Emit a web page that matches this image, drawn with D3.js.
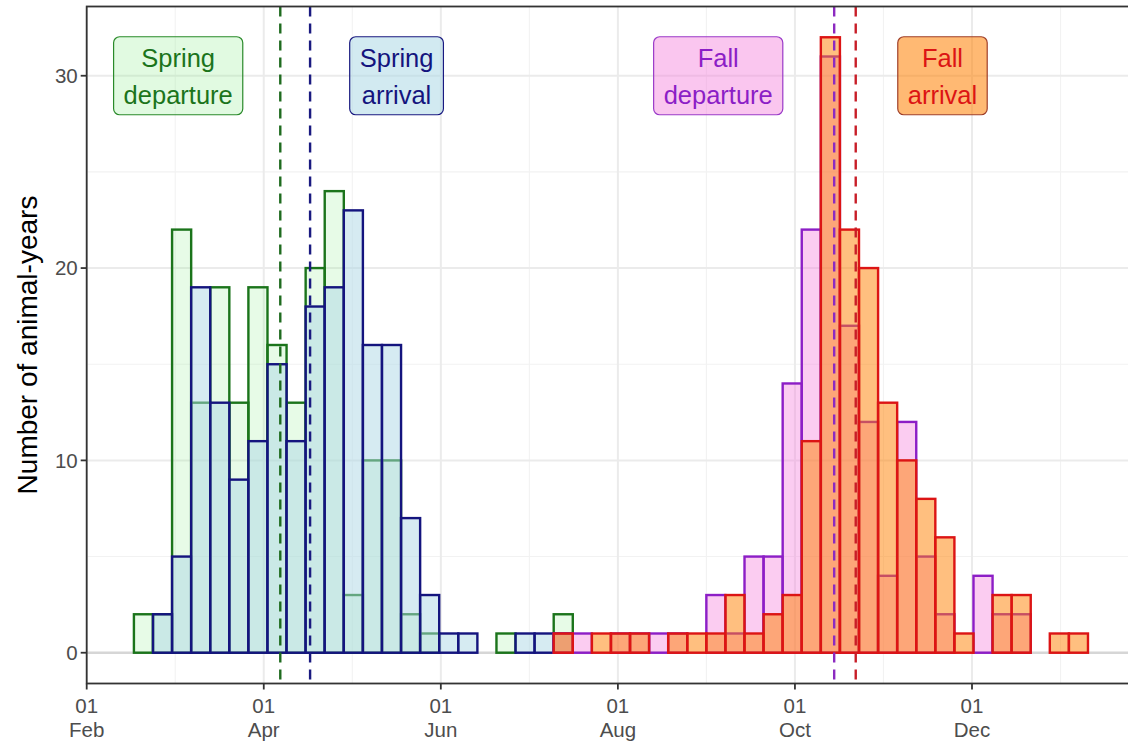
<!DOCTYPE html>
<html>
<head>
<meta charset="utf-8">
<script src="https://cdn.jsdelivr.net/npm/d3@7"></script>
<style>
  body { margin: 0; background: #fff; }
  svg { display: block; font-family: "Liberation Sans", Arial, sans-serif; }
</style>
</head>
<body>
<div id="chart"></div>
<script>
// x is in days counted from 1 Feb
const BIN_START = 16
const BIN_WIDTH = 6.466

// counts per bin (50 bins)
const springDeparture = [2, 2, 22, 13, 19, 13, 19, 16, 13, 20, 24, 3, 10, 10, 2, 1, 0, 0, 0, 1, 0, 0, 2, 0, 0,
                         0, 0, 0, 0, 0, 0, 0, 0, 0, 0, 0, 0, 0, 0, 0, 0, 0, 0, 0, 0, 0, 0, 0, 0, 0]
const springArrival   = [0, 2, 5, 19, 13, 9, 11, 15, 11, 18, 19, 23, 16, 16, 7, 3, 1, 1, 0, 0, 1, 1, 1, 0, 0,
                         0, 0, 0, 0, 0, 0, 0, 0, 0, 0, 0, 0, 0, 0, 0, 0, 0, 0, 0, 0, 0, 0, 0, 0, 0]
const fallDeparture   = [0, 0, 0, 0, 0, 0, 0, 0, 0, 0, 0, 0, 0, 0, 0, 0, 0, 0, 0, 0, 0, 0, 1, 1, 0,
                         1, 1, 1, 1, 0, 3, 1, 5, 5, 14, 22, 31, 17, 12, 4, 12, 5, 2, 0, 4, 2, 2, 0, 0, 0]
const fallArrival     = [0, 0, 0, 0, 0, 0, 0, 0, 0, 0, 0, 0, 0, 0, 0, 0, 0, 0, 0, 0, 0, 0, 1, 0, 1,
                         1, 1, 0, 1, 1, 1, 3, 1, 2, 3, 11, 32, 22, 20, 13, 10, 8, 6, 1, 0, 3, 3, 0, 1, 1]

// dashed reference lines (day from 1 Feb)
const meanDays = [65.6, 75.7, 253.3, 260.6]

// label boxes
const labelLines = [["Spring", "departure"], ["Spring", "arrival"], ["Fall", "departure"], ["Fall", "arrival"]]
const labelDays = [31, 105, 214, 290]
const labelCount = 30

// axes
const tickDays = [0, 60, 120, 180, 240, 300]
const tickLabels = [["01", "Feb"], ["01", "Apr"], ["01", "Jun"], ["01", "Aug"], ["01", "Oct"], ["01", "Dec"]]
const yTicks = [0, 10, 20, 30]
const yTitle = "Number of animal-years"

const seriesCounts = [springDeparture, springArrival, fallDeparture, fallArrival]
const strokes = ["#1b741b", "#14147e", "#8c1ec6", "#dc1414"]
const fills = ["#90ee90", "#add8e6", "#f580dc", "#ff8000"]
const fillOpacity = [0.22, 0.5, 0.4, 0.5]
const dashColors = ["#1f6b1f", "#1a1a80", "#8c2ac0", "#c81e28"]
const labelBorders = ["#2a8a2a", "#1a1a80", "#9a3ac8", "#a0402a"]

function createChart() {
  const width = 1128
  const height = 748

  const x = d3.scaleLinear().domain([0, 300]).range([86.7, 972])
  const y = d3.scaleLinear().domain([-1.6, 33.6]).range([683.5, 6.5])
  const xEnd = x(362)

  const svg = d3.select("#chart")
    .append("svg")
    .attr("width", width)
    .attr("height", height)
    .attr("viewBox", [0, 0, width, height])

  const grid = svg.append("g")
  // minor grid
  grid.selectAll(".vminor")
    .data(tickDays.map(d => d + 30))
    .enter().append("line")
    .attr("x1", d => x(d)).attr("x2", d => x(d))
    .attr("y1", y.range()[0]).attr("y2", y.range()[1])
    .attr("stroke", "#f2f2f2").attr("stroke-width", 1.1)
  grid.selectAll(".hminor")
    .data([5, 15, 25])
    .enter().append("line")
    .attr("x1", x(0)).attr("x2", xEnd)
    .attr("y1", d => y(d)).attr("y2", d => y(d))
    .attr("stroke", "#f2f2f2").attr("stroke-width", 1.1)
  // major grid
  grid.selectAll(".vmajor")
    .data(tickDays)
    .enter().append("line")
    .attr("x1", d => x(d)).attr("x2", d => x(d))
    .attr("y1", y.range()[0]).attr("y2", y.range()[1])
    .attr("stroke", "#ebebeb").attr("stroke-width", 2)
  grid.selectAll(".hmajor")
    .data(yTicks)
    .enter().append("line")
    .attr("x1", x(0)).attr("x2", xEnd)
    .attr("y1", d => y(d)).attr("y2", d => y(d))
    .attr("stroke", d => d === 0 ? "#d6d6d6" : "#ebebeb")
    .attr("stroke-width", d => d === 0 ? 2.4 : 2)

  // histogram bars, one layer per series
  seriesCounts.forEach((counts, i) => {
    const bins = counts.map((c, k) => ({ x0: BIN_START + k * BIN_WIDTH, x1: BIN_START + (k + 1) * BIN_WIDTH, count: c }))
      .filter(b => b.count > 0)
    svg.append("g")
      .selectAll("rect")
      .data(bins)
      .enter().append("rect")
      .attr("x", d => x(d.x0))
      .attr("width", d => x(d.x1) - x(d.x0))
      .attr("y", d => y(d.count))
      .attr("height", d => y(0) - y(d.count))
      .attr("fill", fills[i])
      .attr("fill-opacity", fillOpacity[i])
      .attr("stroke", strokes[i])
      .attr("stroke-width", 2.4)
  })

  // dashed lines
  svg.append("g")
    .selectAll("line")
    .data(meanDays)
    .enter().append("line")
    .attr("x1", d => x(d)).attr("x2", d => x(d))
    .attr("y1", y.range()[1]).attr("y2", y.range()[0])
    .attr("stroke", (d, i) => dashColors[i])
    .attr("stroke-width", 2.4)
    .attr("stroke-dasharray", "10,7")

  // label boxes
  labelLines.forEach((lines, i) => {
    const g = svg.append("g").attr("transform", `translate(${x(labelDays[i])},${y(labelCount)})`)
    const rect = g.append("rect")
    const txt = g.append("text")
      .attr("text-anchor", "middle")
      .attr("font-size", 25.5)
      .attr("fill", strokes[i])
    txt.selectAll("tspan")
      .data(lines)
      .enter().append("tspan")
      .attr("x", 0)
      .attr("y", (d, j) => j === 0 ? -9 : 28.5)
      .text(d => d)
    const w = d3.max(txt.selectAll("tspan").nodes(), n => n.getComputedTextLength()) + 20
    rect.attr("x", -w / 2).attr("y", -39).attr("width", w).attr("height", 78)
      .attr("rx", 6).attr("ry", 6)
      .attr("fill", fills[i]).attr("fill-opacity", fillOpacity[i] + 0.05)
      .attr("stroke", labelBorders[i]).attr("stroke-width", 1.2)
  })

  // panel border
  svg.append("rect")
    .attr("x", x(0)).attr("y", y.range()[1])
    .attr("width", xEnd - x(0)).attr("height", y.range()[0] - y.range()[1])
    .attr("fill", "none").attr("stroke", "#333").attr("stroke-width", 1.8)

  // x axis
  const xa = svg.append("g")
  xa.selectAll("line")
    .data(tickDays)
    .enter().append("line")
    .attr("x1", d => x(d)).attr("x2", d => x(d))
    .attr("y1", y.range()[0]).attr("y2", y.range()[0] + 6)
    .attr("stroke", "#333").attr("stroke-width", 1.8)
  const xt = xa.selectAll("text")
    .data(tickDays)
    .enter().append("text")
    .attr("text-anchor", "middle")
    .attr("font-size", 20.5)
    .attr("fill", "#4d4d4d")
  xt.append("tspan").attr("x", d => x(d)).attr("y", 713).text((d, i) => tickLabels[i][0])
  xt.append("tspan").attr("x", d => x(d)).attr("y", 737).text((d, i) => tickLabels[i][1])

  // y axis
  const ya = svg.append("g")
  ya.selectAll("line")
    .data(yTicks)
    .enter().append("line")
    .attr("x1", x(0) - 6).attr("x2", x(0))
    .attr("y1", d => y(d)).attr("y2", d => y(d))
    .attr("stroke", "#333").attr("stroke-width", 1.8)
  ya.selectAll("text")
    .data(yTicks)
    .enter().append("text")
    .attr("x", x(0) - 9)
    .attr("y", d => y(d))
    .attr("dy", "0.36em")
    .attr("text-anchor", "end")
    .attr("font-size", 20.5)
    .attr("fill", "#4d4d4d")
    .text(d => d)

  svg.append("text")
    .attr("transform", `translate(37,${(y.range()[0] + y.range()[1]) / 2}) rotate(-90)`)
    .attr("text-anchor", "middle")
    .attr("font-size", 28)
    .attr("fill", "#000")
    .text(yTitle)
}

createChart()
</script>
</body>
</html>
